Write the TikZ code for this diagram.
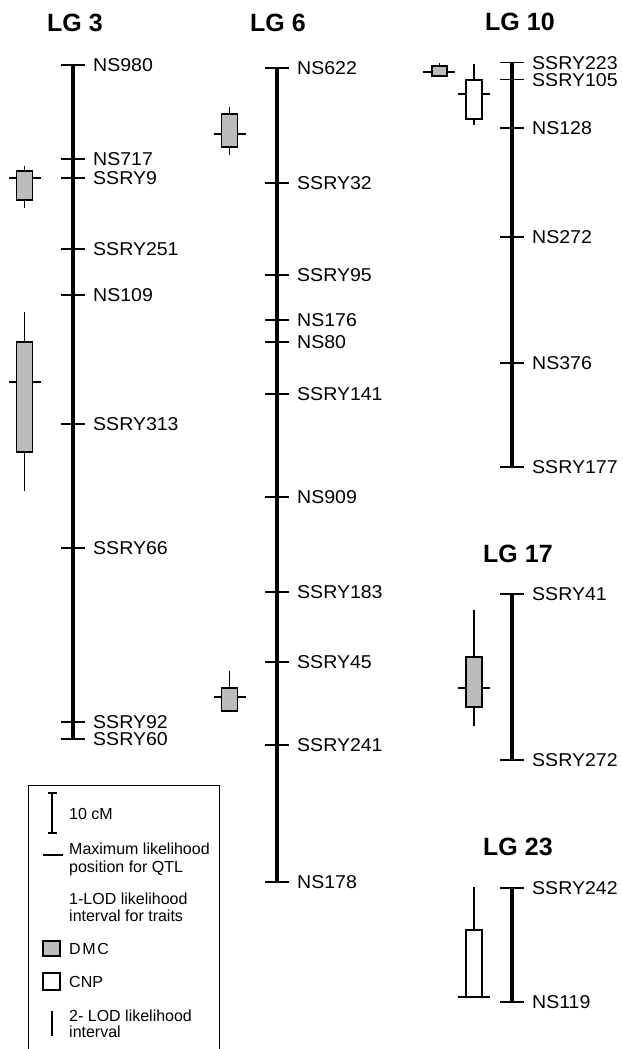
\documentclass[tikz,border=0pt]{standalone}
\usepackage{fontspec}
\setmainfont{Liberation Sans}
\newfontfamily\lblfont[FakeStretch=1.05]{Liberation Sans}
\definecolor{qgrey}{RGB}{188,188,188}
\tikzset{
  chrom/.style={line width=4.3pt},
  tickline/.style={line width=1.3pt},
  whisk/.style={line width=1.2pt},
  lbl/.style={font=\lblfont\fontsize{18.6}{22}\selectfont, inner sep=0pt, anchor=base west},
  ttl/.style={font=\bfseries\fontsize{25}{28}\selectfont, inner sep=0pt, anchor=base west},
  leg/.style={font=\fontsize{16}{18}\selectfont, inner sep=0pt, anchor=base west},
  qbox/.style={draw, line width=1.2pt},
  dmc/.style={qbox, fill=qgrey},
  cnp/.style={qbox, fill=white},
}
% marker: x of chromosome, y, label
\newcommand\mkr[3]{%
  \draw[tickline] (#1-12,#2) -- (#1+12,#2);
  \node[lbl] (m#3) at (#1+20,#2+6.7) {#3};}
% qtl: x centre, tick y, box top, box bottom, whisker top, whisker bottom, style
\newcommand\qtl[7]{%
  \draw[whisk] (#1,#5) -- (#1,#6);
  \draw[whisk] (#1-16,#2) -- (#1+16,#2);
  \draw[#7] (#1-8,#3) rectangle (#1+8,#4);}
\begin{document}
\begin{tikzpicture}[x=1pt,y=-1pt]
\useasboundingbox[fill=white] (0,0) rectangle (622,1049);

% titles
\node[ttl] (t3)  at (47,32)   {LG 3};
\node[ttl] (t6)  at (250,32)  {LG 6};
\node[ttl] (t10) at (485,31)  {LG 10};
\node[ttl] (t17) at (483,562) {LG 17};
\node[ttl] (t23) at (483,855) {LG 23};

% LG 3
\draw[chrom] (73,65) -- (73,739);
\mkr{73}{65}{NS980}
\mkr{73}{159}{NS717}
\mkr{73}{178}{SSRY9}
\mkr{73}{249}{SSRY251}
\mkr{73}{295}{NS109}
\mkr{73}{424}{SSRY313}
\mkr{73}{548}{SSRY66}
\mkr{73}{722}{SSRY92}
\mkr{73}{739}{SSRY60}
\qtl{24.5}{178}{171}{200}{166}{208}{dmc}
\qtl{24.5}{382}{342}{452}{312}{491}{dmc}

% LG 6
\draw[chrom] (277,68) -- (277,882);
\mkr{277}{68}{NS622}
\mkr{277}{183}{SSRY32}
\mkr{277}{275}{SSRY95}
\mkr{277}{320}{NS176}
\mkr{277}{342}{NS80}
\mkr{277}{394}{SSRY141}
\mkr{277}{497}{NS909}
\mkr{277}{592}{SSRY183}
\mkr{277}{662}{SSRY45}
\mkr{277}{745}{SSRY241}
\mkr{277}{882}{NS178}
\qtl{229.5}{134}{114}{147}{107}{155}{dmc}
\qtl{229.5}{697}{688}{711}{671}{711}{dmc}

% LG 10
\draw[chrom] (512,63) -- (512,467);
\mkr{512}{62.5}{SSRY223}
\mkr{512}{79.5}{SSRY105}
\mkr{512}{128}{NS128}
\mkr{512}{237}{NS272}
\mkr{512}{363}{NS376}
\mkr{512}{467}{SSRY177}
\draw[whisk] (423,72) -- (455,72);
\draw[whisk] (439.5,63) -- (439.5,77);
\draw[dmc] (432,66) rectangle (447,76);
\qtl{474}{94}{80}{119}{64}{125}{cnp}

% LG 17
\draw[chrom] (512,594) -- (512,760);
\mkr{512}{594}{SSRY41}
\mkr{512}{760}{SSRY272}
\qtl{474}{688}{657}{707}{610}{726}{dmc}

% LG 23
\draw[chrom] (512,888) -- (512,1002);
\mkr{512}{888}{SSRY242}
\mkr{512}{1002}{NS119}
\qtl{474}{997}{930}{997}{887}{997}{cnp}

% legend
\draw[line width=1pt] (28,1060) -- (28,785) -- (219,785) -- (219,1060);
\draw[whisk] (52,793) -- (52,833);
\draw[whisk] (47.5,793) -- (56.5,793);
\draw[whisk] (47.5,833) -- (56.5,833);
\node[leg] (l1) at (69,819.7) {10 cM};
\draw[whisk] (43,855) -- (63,855);
\node[leg] (l2a) at (69,854.7) {Maximum likelihood};
\node[leg] (l2b) at (69,872.7) {position for QTL};
\node[leg] (l3a) at (69,904.7) {1-LOD likelihood};
\node[leg] (l3b) at (69,921.7) {interval for traits};
\draw[dmc] (43,941) rectangle (60,956);
\node[leg] (l4) at (69,954.7) {\addfontfeature{LetterSpace=10}DMC};
\draw[cnp] (43,973) rectangle (60,990);
\node[leg] (l5) at (69,987.7) {CNP};
\draw[whisk] (52,1011) -- (52,1036);
\node[leg] (l6a) at (69,1021.7) {2- LOD likelihood};
\node[leg] (l6b) at (69,1037.7) {interval};
\end{tikzpicture}
\end{document}
